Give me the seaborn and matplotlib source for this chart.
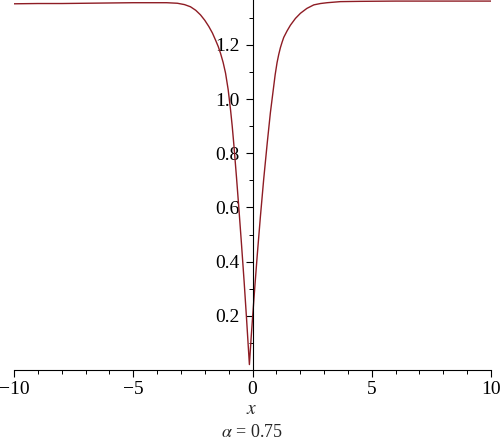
import numpy as np
import pandas as pd
import matplotlib
matplotlib.use("Agg")
import matplotlib.pyplot as plt
import seaborn as sns
from matplotlib.ticker import MultipleLocator

# curve values (alpha = 0.75)
x_vals = [-10.0, -9.0, -8.0, -7.0, -6.0, -5.0, -4.27, -3.6, -3.15, -2.85, -2.6,
          -2.38, -2.18, -2.0, -1.83, -1.68, -1.55, -1.44, -1.34, -1.23, -1.13,
          -1.02, -0.92, -0.85, -0.78, -0.67, -0.57, -0.47, -0.35, -0.25, -0.13,
          -0.06, 0.0, 0.1, 0.2, 0.33, 0.47, 0.62, 0.75, 0.85, 0.95, 1.03, 1.10,
          1.17, 1.24, 1.31, 1.45, 1.59, 1.8, 2.01, 2.28, 2.57, 2.85, 3.13, 3.69,
          4.5, 6.0, 8.0, 10.0]
y_vals = [1.352, 1.353, 1.353, 1.354, 1.355, 1.356, 1.356, 1.356, 1.354, 1.349, 1.341,
          1.328, 1.311, 1.291, 1.268, 1.244, 1.218, 1.195, 1.169, 1.135, 1.096,
          1.035, 0.960, 0.900, 0.830, 0.710, 0.595, 0.475, 0.325, 0.190, 0.020,
          0.115, 0.190, 0.310, 0.425, 0.565, 0.705, 0.840, 0.950, 1.020, 1.090, 1.135, 1.165,
          1.190, 1.210, 1.228, 1.252, 1.273, 1.298, 1.317, 1.335, 1.348, 1.353, 1.356, 1.360,
          1.361, 1.362, 1.362, 1.362]
x_ticks = [-10, -5, 0, 5, 10]
y_ticks = [0.2, 0.4, 0.6, 0.8, 1.0, 1.2]

sns.set_style("white")
plt.rcParams['font.family'] = ['Liberation Serif', 'DejaVu Serif']
plt.rcParams['mathtext.fontset'] = 'stix'

df = pd.DataFrame({'x': x_vals, 'y': y_vals})

fig = plt.figure(figsize=(5.0, 4.44), dpi=100)
ax = fig.add_axes([0.028, 0.1667, 0.954, 0.8333])

sns.lineplot(data=df, x='x', y='y', ax=ax, color='#8E1C24', linewidth=1.0)

ax.set_xlim(-10, 10)
ax.set_ylim(0, 1.366)

# Maple style axes: y axis through x = 0
ax.spines['left'].set_position(('data', 0))
ax.spines['right'].set_visible(False)
ax.spines['top'].set_visible(False)
for s in ['left', 'bottom']:
    ax.spines[s].set_color('black')
    ax.spines[s].set_linewidth(0.8)

ax.set_xticks(x_ticks)
ax.set_yticks(y_ticks)
ax.set_yticklabels([f"{v:.1f}" for v in y_ticks])
ax.xaxis.set_minor_locator(MultipleLocator(1))
ax.yaxis.set_minor_locator(MultipleLocator(0.1))
ax.tick_params(axis='both', which='both', bottom=True, left=True, top=False, right=False)
ax.tick_params(axis='both', which='major', direction='out', length=5, width=0.8,
               labelsize=14, colors='black')
ax.tick_params(axis='both', which='minor', direction='out', length=3, width=0.7,
               colors='black')
ax.tick_params(axis='y', which='major', pad=4)
ax.tick_params(axis='x', which='major', pad=3)
ax.grid(False)

ax.set_xlabel('')
ax.set_ylabel('')
fig.text(0.504, 0.077, '$x$', ha='center', va='center', fontsize=14)
fig.text(0.504, 0.027, r'$\alpha$ = 0.75', ha='center', va='center', fontsize=13)

fig.savefig('out.png', dpi=100)
